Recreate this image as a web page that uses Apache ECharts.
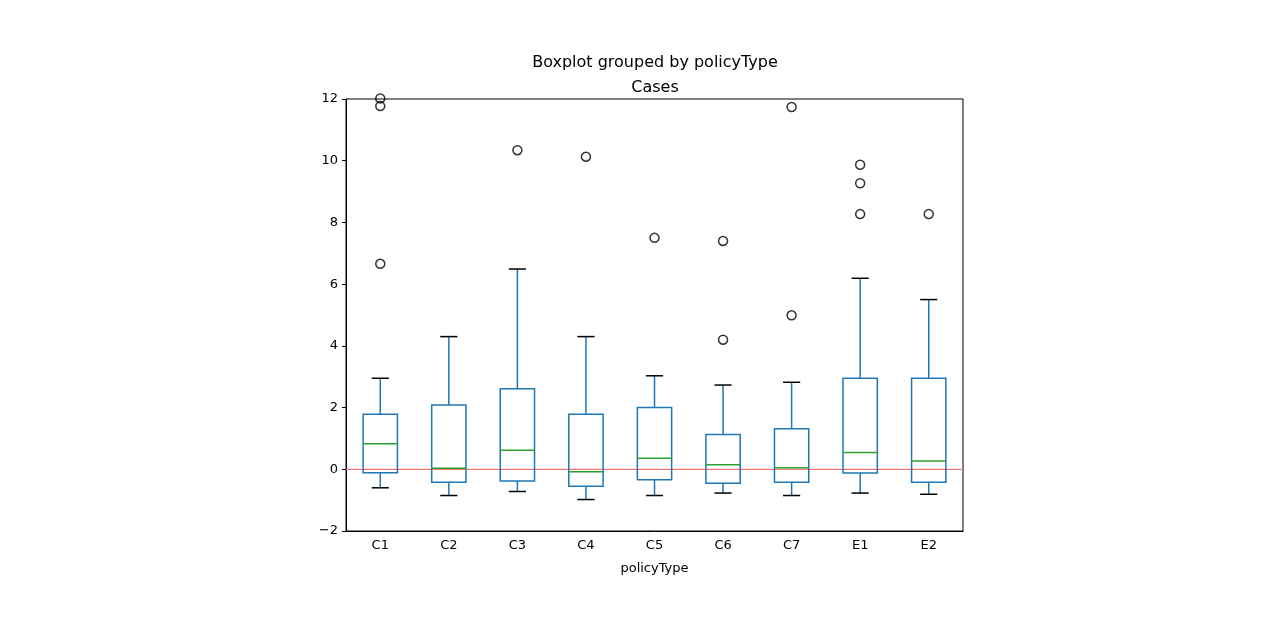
<!DOCTYPE html>
<html>
<head>
<meta charset="utf-8">
<script src="https://cdn.jsdelivr.net/npm/echarts@6/dist/echarts.min.js"></script>
<style>html,body{margin:0;padding:0;background:#fff;}#c{width:1280px;height:621px;}</style>
</head>
<body>
<div id="c"></div>
<script>
const categories = ['C1','C2','C3','C4','C5','C6','C7','E1','E2'];
// [whiskerLow, Q1, median, Q3, whiskerHigh]
const boxStats = [
  [-0.60, -0.11, 0.83, 1.78, 2.95],
  [-0.85, -0.42, 0.03, 2.08, 4.30],
  [-0.72, -0.38, 0.62, 2.61, 6.49],
  [-0.98, -0.55, -0.08, 1.78, 4.30],
  [-0.85, -0.34, 0.36, 2.00, 3.03],
  [-0.77, -0.45, 0.15, 1.13, 2.73],
  [-0.85, -0.42, 0.05, 1.31, 2.82],
  [-0.77, -0.12, 0.54, 2.95, 6.19],
  [-0.81, -0.42, 0.27, 2.95, 5.50]
];
// [categoryIndex, value]
const outliers = [
  [0, 11.77], [0, 12.02], [0, 6.66],
  [2, 10.34],
  [3, 10.13],
  [4, 7.50],
  [5, 7.40], [5, 4.20],
  [6, 11.74], [6, 4.99],
  [7, 9.87], [7, 9.27], [7, 8.27],
  [8, 8.27]
];
const referenceLine = [0];
const yTicks = {min: -2, max: 12, interval: 2};

const chart = echarts.init(document.getElementById('c'));
const font = 'DejaVu Sans';
const customData = boxStats.map((s, i) => [i].concat(s));

chart.setOption({
  animation: false,
  backgroundColor: '#fff',
  title: [
    {text: 'Boxplot grouped by policyType', left: 650, top: 50, textAlign: 'center',
     textStyle: {fontFamily: font, fontSize: 16, fontWeight: 'normal', color: '#000'}},
    {text: 'Cases', left: 650, top: 75, textAlign: 'center',
     textStyle: {fontFamily: font, fontSize: 16, fontWeight: 'normal', color: '#000'}}
  ],
  grid: {left: 346, right: 317, top: 99, bottom: 90, show: true, borderColor: '#000', borderWidth: 1, backgroundColor: 'transparent'},
  xAxis: {
    type: 'category', data: categories, boundaryGap: true,
    name: 'policyType', nameLocation: 'middle', nameGap: 31,
    nameTextStyle: {fontFamily: font, fontSize: 13, color: '#000'},
    axisLine: {onZero: false, lineStyle: {color: '#000'}},
    axisTick: {alignWithLabel: true, length: 4, lineStyle: {color: '#000'}},
    axisLabel: {fontFamily: font, fontSize: 13, color: '#000', margin: 8},
    splitLine: {show: false}
  },
  yAxis: {
    type: 'value', min: yTicks.min, max: yTicks.max, interval: yTicks.interval,
    axisLine: {show: true, onZero: false, lineStyle: {color: '#000'}},
    axisTick: {show: true, length: 4, lineStyle: {color: '#000'}},
    axisLabel: {fontFamily: font, fontSize: 13, color: '#000', margin: 8,
      formatter: v => (v < 0 ? '\u2212' + Math.abs(v) : String(v))},
    splitLine: {show: false}
  },
  series: [
    {
      type: 'custom',
      data: referenceLine.map(v => [0, v]),
      z: 2,
      silent: true,
      renderItem: function (params, api) {
        const cs = params.coordSys;
        const y = api.coord([0, api.value(1)])[1];
        return {type: 'line', shape: {x1: cs.x, y1: y, x2: cs.x + cs.width, y2: y},
                style: {stroke: '#f07878', lineWidth: 1.2}};
      }
    },
    {
      type: 'custom',
      data: customData,
      z: 3,
      renderItem: function (params, api) {
        const x = api.value(0);
        const band = api.size([1, 0])[0];
        const hw = band * 0.25, cw = band * 0.125;
        const pl = api.coord([x, api.value(1)]);
        const p1 = api.coord([x, api.value(2)]);
        const pm = api.coord([x, api.value(3)]);
        const p3 = api.coord([x, api.value(4)]);
        const ph = api.coord([x, api.value(5)]);
        const cx = pl[0];
        const blue = '#1f77b4';
        return {
          type: 'group',
          children: [
            {type: 'rect', shape: {x: cx - hw, y: p3[1], width: 2 * hw, height: p1[1] - p3[1]},
             style: {fill: 'none', stroke: blue, lineWidth: 1.5}},
            {type: 'line', shape: {x1: cx, y1: p3[1], x2: cx, y2: ph[1]}, style: {stroke: blue, lineWidth: 1.5}},
            {type: 'line', shape: {x1: cx, y1: p1[1], x2: cx, y2: pl[1]}, style: {stroke: blue, lineWidth: 1.5}},
            {type: 'line', shape: {x1: cx - cw, y1: ph[1], x2: cx + cw, y2: ph[1]}, style: {stroke: '#000', lineWidth: 1.5}},
            {type: 'line', shape: {x1: cx - cw, y1: pl[1], x2: cx + cw, y2: pl[1]}, style: {stroke: '#000', lineWidth: 1.5}},
            {type: 'line', shape: {x1: cx - hw, y1: pm[1], x2: cx + hw, y2: pm[1]}, style: {stroke: '#2ca02c', lineWidth: 1.5}}
          ]
        };
      }
    },
    {
      type: 'scatter',
      data: outliers,
      symbol: 'circle', symbolSize: 9,
      clip: false,
      itemStyle: {color: 'rgba(0,0,0,0)', borderColor: '#000', borderWidth: 1.5},
      z: 4
    }
  ]
});
</script>
</body>
</html>
